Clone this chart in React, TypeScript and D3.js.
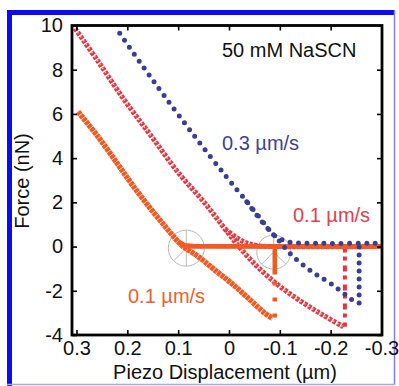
import React, { useEffect, useRef } from "react";
import * as d3 from "d3";

// axis ticks
const xTicks = [0.3, 0.2, 0.1, 0, -0.1, -0.2, -0.3];
const yTicks = [-4, -2, 0, 2, 4, 6, 8, 10];

// 0.3 um/s (blue dots) : [displacement um, force nN]
const blueApproach: [number, number][] = [
  [0.215, 9.65], [0.169, 8.14], [0.126, 6.78], [0.067, 4.97], [0.008, 3.24],
  [-0.035, 2.03], [-0.064, 1.2], [-0.087, 0.55], [-0.105, 0.3], [-0.125, 0.18],
  [-0.16, 0.15], [-0.3, 0.15],
];
const blueRetract: [number, number][] = [
  [-0.035, 2.03], [-0.064, 1.15], [-0.095, 0.35], [-0.123, -0.38],
  [-0.163, -1.14], [-0.202, -1.7], [-0.252, -2.6],
];
const blueJump: [number, number][] = [[-0.256, -2.55], [-0.256, 0.15]];

// 0.1 um/s (red triangles)
const redRetract: [number, number][] = [
  [0.303, 9.87], [0.257, 8.36], [0.205, 6.6], [0.152, 4.97], [0.1, 3.35],
  [0.047, 1.95], [0.008, 0.8], [-0.025, -0.15], [-0.06, -1.0], [-0.1, -1.8],
  [-0.143, -2.5], [-0.185, -3.1], [-0.225, -3.63],
];
const redApproach: [number, number][] = [
  [0.008, 0.8], [-0.03, 0.2], [-0.06, 0.03], [-0.1, 0.0], [-0.3, 0.0],
];
const redJump: [number, number][] = [[-0.228, 0], [-0.228, -3.63]];

// 0.1 um/s (orange squares)
const orangeRetract: [number, number][] = [
  [0.297, 6.1], [0.257, 4.95], [0.218, 3.7], [0.192, 2.85], [0.159, 1.85],
  [0.126, 0.92], [0.1, 0.22], [0.09, 0.0], [0.06, -0.46], [0.028, -1.06],
  [-0.005, -1.66], [-0.038, -2.34], [-0.071, -3.02], [-0.086, -3.25],
];
const orangeApproach: [number, number][] = [
  [0.1, 0.22], [0.088, 0.05], [0.07, 0.02], [-0.3, 0.0],
];
const orangeJump: [number, number][] = [[-0.09, 0], [-0.09, -3.25]];

// grey circles marking the jumps
const circles: [number, number][] = [[0.084, -0.07], [-0.088, -0.25]];

const FONT = "'Liberation Sans', Arial, Helvetica, sans-serif";
const FS = "20px";

const App = () => {
  const ref = useRef<SVGSVGElement>(null);

  useEffect(() => {
    drawChart();
  }, []);

  const drawChart = () => {
    const W = 399, H = 386;
    const left = 72, right = 382, top = 25.5, bottom = 335;

    const svg = d3.select(ref.current);
    svg.selectAll("*").remove();

    svg.append("rect").attr("width", W).attr("height", H).attr("fill", "#fff");

    // blue frame of the figure
    svg.append("rect").attr("x", 7).attr("y", 10).attr("width", 387).attr("height", 5).attr("fill", "#0a0af5");
    svg.append("rect").attr("x", 7).attr("y", 10).attr("width", 5).attr("height", 376).attr("fill", "#0a0af5");
    svg.append("line").attr("x1", 394.5).attr("x2", 394.5).attr("y1", 10).attr("y2", 385)
      .attr("stroke", "#7f7ff5").attr("stroke-width", 1.5);
    svg.append("line").attr("x1", 7).attr("x2", 395).attr("y1", 384.5).attr("y2", 384.5)
      .attr("stroke", "#a9a9f5").attr("stroke-width", 1.5);

    const x = d3.scaleLinear().domain([0.3, -0.3]).range([76.5, 381.5]);
    const y = d3.scaleLinear().domain([-4, 10]).range([bottom, top]);

    const g = svg.append("g");

    // annotation circles
    circles.forEach(([cx, cy], i) => {
      const px = x(cx), py = y(cy), r = i === 0 ? 18 : 17;
      const c = g.append("g").attr("stroke", "#b9b9b9").attr("stroke-width", 1).attr("fill", "none");
      c.append("circle").attr("cx", px).attr("cy", py).attr("r", r);
      c.append("line").attr("x1", px).attr("y1", py - r).attr("x2", px).attr("y2", py + r);
      c.append("line").attr("x1", px).attr("y1", py)
        .attr("x2", px - r * Math.SQRT1_2).attr("y2", py + r * Math.SQRT1_2);
      c.append("line").attr("x1", px).attr("y1", py)
        .attr("x2", px + r * Math.SQRT1_2).attr("y2", py + r * Math.SQRT1_2);
    });

    const curve = d3.line<[number, number]>()
      .x(d => x(d[0])).y(d => y(d[1]))
      .curve(d3.curveCatmullRom.alpha(0.5));
    const straight = d3.line<[number, number]>().x(d => x(d[0])).y(d => y(d[1]));

    // red triangles
    const red = "#e6353f";
    [redApproach, redRetract].forEach(d => {
      g.append("path").attr("d", curve(d)).attr("fill", "none")
        .attr("stroke", red).attr("stroke-width", 5).attr("stroke-dasharray", "3.4 1.4");
      g.append("path").attr("d", curve(d)).attr("fill", "none")
        .attr("stroke", "#ffc4c4").attr("stroke-width", 1.3).attr("stroke-dasharray", "1.4 3.4");
    });
    g.append("path").attr("d", straight(redJump)).attr("fill", "none")
      .attr("stroke", red).attr("stroke-width", 4).attr("stroke-dasharray", "6 4 4 5");

    // orange squares
    const orange = "#f25a22";
    g.append("path").attr("d", curve(orangeRetract)).attr("fill", "none")
      .attr("stroke", orange).attr("stroke-width", 5.5).attr("stroke-dasharray", "3.6 0.6");
    g.append("path").attr("d", straight(orangeApproach)).attr("fill", "none")
      .attr("stroke", orange).attr("stroke-width", 5);
    g.append("path").attr("d", straight(orangeJump)).attr("fill", "none")
      .attr("stroke", orange).attr("stroke-width", 4.5).attr("stroke-dasharray", "28 7 4 12 4 12 4 12");

    // blue dots
    const blue = "#3b3d95";
    [blueApproach, blueRetract].forEach(d => {
      g.append("path").attr("d", curve(d)).attr("fill", "none")
        .attr("stroke", blue).attr("stroke-width", 5)
        .attr("stroke-linecap", "round").attr("stroke-dasharray", "0 8.5");
    });
    g.append("path").attr("d", straight(blueJump)).attr("fill", "none")
      .attr("stroke", blue).attr("stroke-width", 5)
      .attr("stroke-linecap", "round").attr("stroke-dasharray", "0 8");

    // frame of the plot
    svg.append("rect").attr("x", left).attr("y", top)
      .attr("width", right - left).attr("height", bottom - top)
      .attr("fill", "none").attr("stroke", "#000").attr("stroke-width", 2.8);

    const styleAxis = (a: any) => {
      a.select(".domain").remove();
      a.selectAll("line").attr("stroke", "#000").attr("stroke-width", 1.6);
      a.selectAll("text").style("font-family", FONT).style("font-size", FS).attr("fill", "#111");
    };

    svg.append("g").attr("transform", `translate(0,${bottom})`)
      .call(d3.axisBottom(x).tickValues(xTicks).tickSize(-5).tickPadding(6).tickFormat(d => d3.format(".1f")(d as number).replace("−", "-").replace("0.0", "0")))
      .call(styleAxis);
    svg.append("g").attr("transform", `translate(0,${top})`)
      .call(d3.axisTop(x).tickValues(xTicks).tickSize(-5).tickFormat(() => ""))
      .call(styleAxis);
    svg.append("g").attr("transform", `translate(${left},0)`)
      .call(d3.axisLeft(y).tickValues(yTicks).tickSize(-5).tickPadding(9).tickFormat(d => String(d)))
      .call(styleAxis);
    svg.append("g").attr("transform", `translate(${right},0)`)
      .call(d3.axisRight(y).tickValues(yTicks).tickSize(-5).tickFormat(() => ""))
      .call(styleAxis);

    const label = (tx: number, ty: number, s: string, color: string, anchor = "start") =>
      svg.append("text").attr("x", tx).attr("y", ty).attr("text-anchor", anchor)
        .style("font-family", FONT).style("font-size", FS).attr("fill", color).text(s);

    label(225, 379, "Piezo Displacement (\u00b5m)", "#111", "middle");
    svg.append("text").attr("transform", "translate(28.5,181) rotate(-90)").attr("text-anchor", "middle")
      .style("font-family", FONT).style("font-size", FS).attr("fill", "#111").text("Force (nN)");

    label(222, 57, "50 mM NaSCN", "#111");
    label(222, 150, "0.3 \u00b5m/s", "#3f4197");
    label(293, 222, "0.1 \u00b5m/s", "#e4404a");
    label(128, 303, "0.1 \u00b5m/s", "#f0602e");
  };

  return (
    <svg ref={ref} width={399} height={386} style={{ position: "absolute", left: 0, top: 0 }} />
  );
};

export default App;
